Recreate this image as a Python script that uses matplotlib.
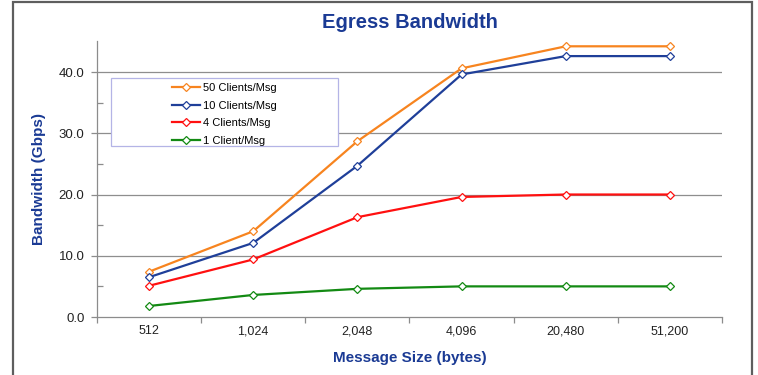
import matplotlib
matplotlib.use("Agg")
import matplotlib.pyplot as plt
from matplotlib.patches import Rectangle
from matplotlib.ticker import FixedLocator, NullFormatter, FixedFormatter

plt.rcParams['font.family'] = ['Liberation Sans', 'DejaVu Sans']

sizes = ["512", "1,024", "2,048", "4,096", "20,480", "51,200"]
series_labels = ["50 Clients/Msg", "10 Clients/Msg", "4 Clients/Msg", "1 Client/Msg"]
clients_50 = [7.4, 14.0, 28.7, 40.6, 44.2, 44.2]
clients_10 = [6.5, 12.1, 24.7, 39.6, 42.6, 42.6]
clients_4 = [5.1, 9.4, 16.3, 19.6, 20.0, 20.0]
clients_1 = [1.8, 3.6, 4.6, 5.0, 5.0, 5.0]
colors = ["#F7841F", "#1F3F99", "#FF1010", "#138A13"]

navy = "#1A3A94"
axis_gray = "#8C8C8C"

fig = plt.figure(figsize=(7.58, 3.75), dpi=100)
ax = fig.add_axes([97 / 758, 1 - 317 / 375, 625 / 758, 275.6 / 375])

# outer chart frame
fig.patches.append(Rectangle((13 / 758, -0.2), (752 - 13) / 758, 1.2 - 2 / 375,
                             transform=fig.transFigure, fill=False,
                             edgecolor="#5E5E5E", linewidth=1.6, zorder=0))

xs = list(range(len(sizes)))
data = [clients_50, clients_10, clients_4, clients_1]
handles = []
for vals, col, lab in zip(data, colors, series_labels):
    h, = ax.plot(xs, vals, color=col, linewidth=1.6, marker="D", markersize=4.0,
                 markerfacecolor="white", markeredgecolor=col, markeredgewidth=0.9,
                 label=lab, zorder=3)
    handles.append(h)

ax.set_xlim(-0.5, len(sizes) - 0.5)
ax.set_ylim(0, 45)

# y axis: labelled majors every 10, inner minor ticks every 5
ax.yaxis.set_major_locator(FixedLocator([0, 10, 20, 30, 40]))
ax.yaxis.set_major_formatter(FixedFormatter(["0.0", "10.0", "20.0", "30.0", "40.0"]))
ax.yaxis.set_minor_locator(FixedLocator([5, 15, 25, 35]))
ax.tick_params(axis="y", which="major", direction="out", length=4, width=0.9,
               color=axis_gray, labelsize=9.5, labelcolor="#222222", pad=5)
ax.tick_params(axis="y", which="minor", direction="in", length=4, width=0.9,
               color=axis_gray)

# x axis: tick marks between categories, labels at category centres
ax.xaxis.set_major_locator(FixedLocator([i - 0.5 for i in range(len(sizes) + 1)]))
ax.xaxis.set_major_formatter(NullFormatter())
ax.xaxis.set_minor_locator(FixedLocator(xs))
ax.xaxis.set_minor_formatter(FixedFormatter(sizes))
ax.tick_params(axis="x", which="major", direction="out", length=4, width=0.9,
               color=axis_gray)
ax.tick_params(axis="x", which="minor", length=0, labelsize=9,
               labelcolor="#222222", pad=6)

for y in [10, 20, 30, 40]:
    ax.axhline(y, color="#8E8E8E", linewidth=0.9, zorder=1)

for side in ["top", "right"]:
    ax.spines[side].set_visible(False)
for side in ["left", "bottom"]:
    ax.spines[side].set_color(axis_gray)
    ax.spines[side].set_linewidth(0.9)

ax.set_title("Egress Bandwidth", fontsize=14.5, fontweight="bold", color=navy, pad=10)
ax.set_xlabel("Message Size (bytes)", fontsize=11, fontweight="bold", color=navy, labelpad=10)
ax.set_ylabel("Bandwidth (Gbps)", fontsize=11, fontweight="bold", color=navy, labelpad=9)

# legend box
lx0, lx1, ly0, ly1 = (111 - 97) / 625, (338 - 97) / 625, (317 - 146) / 275.6, (317 - 78) / 275.6
ax.add_patch(Rectangle((lx0, ly0), lx1 - lx0, ly1 - ly0, transform=ax.transAxes,
                       facecolor="white", edgecolor="#B4B4E6", linewidth=0.9, zorder=4))
leg = ax.legend(handles=handles, loc="center",
                bbox_to_anchor=((lx0 + lx1) / 2, (ly0 + ly1) / 2 - 2.5 / 275.6),
                frameon=False, fontsize=8, handlelength=2.5, handletextpad=0.3,
                labelspacing=0.68, borderpad=0)
leg.set_zorder(5)

fig.savefig("out.png", dpi=100, facecolor="white")
